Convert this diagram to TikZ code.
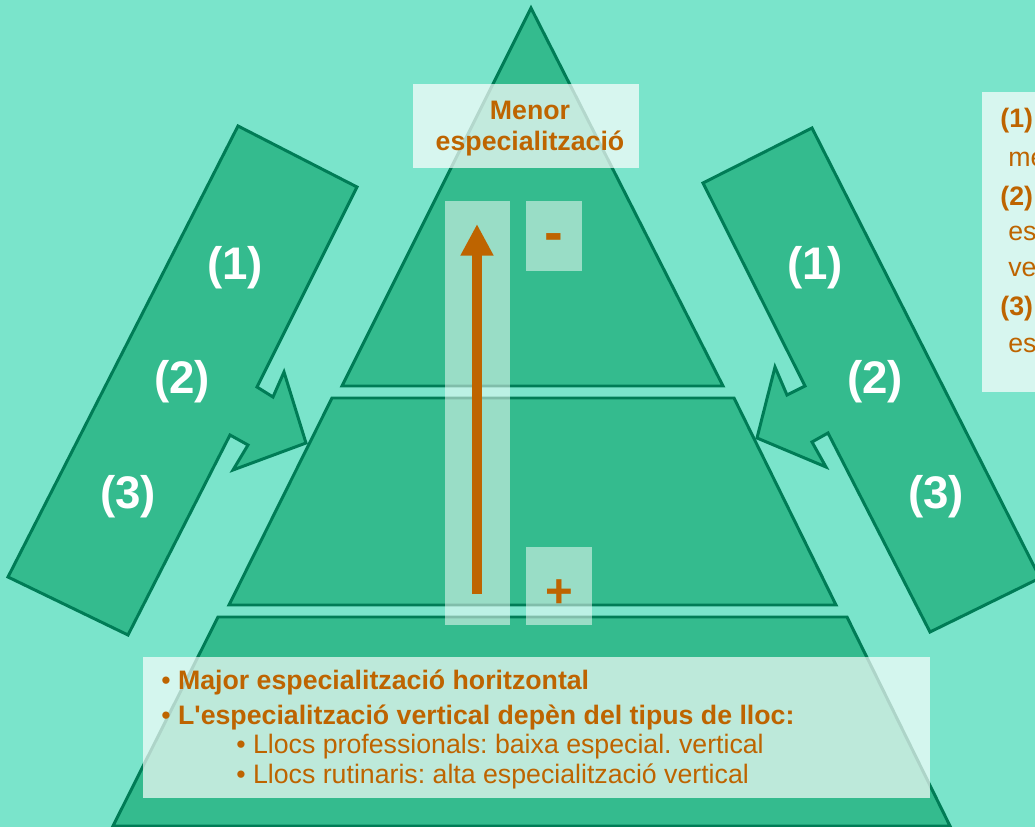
\documentclass[tikz,border=0pt]{standalone}
\usepackage{fontspec}
\setmainfont{Liberation Sans}
\frenchspacing
\usetikzlibrary{arrows.meta}
\definecolor{bgteal}{RGB}{122,228,203}
\definecolor{tierfill}{RGB}{52,187,142}
\definecolor{tierline}{RGB}{0,124,86}
\definecolor{txtorange}{RGB}{190,100,0}
\tikzset{
  tier/.style = {fill=tierfill, draw=tierline, line width=1.7pt, line join=miter},
  veil/.style = {fill=white, fill opacity=#1},
  num/.style = {text=white, font=\fontsize{26}{30}\selectfont\bfseries},
  lbl/.style = {text=txtorange, font=\fontsize{15.2}{18}\selectfont\bfseries, inner sep=0pt},
  lbltext/.style = {text=txtorange, font=\fontsize{15.2}{18}\selectfont, inner sep=0pt}
}

\begin{document}
\begin{tikzpicture}[x=0.02cm,y=-0.02cm]
  \useasboundingbox (0,0) rectangle (1035,827);
  \clip (0,0) rectangle (1035,827);
  \fill[bgteal] (0,0) rectangle (1035,827);

  % pyramid
  \draw[tier] (531,8) -- (723,386) -- (342,386) -- cycle;
  \draw[tier] (332,398) -- (734,398) -- (836,605) -- (229,605) -- cycle;
  \draw[tier] (218,617) -- (847,617) -- (950,826) -- (113,826) -- cycle;

  % side arrows
  \draw[tier] (238,126) -- (357,187) -- (257,387) -- (273,397) -- (284,372)
    -- (306,443) -- (233,470) -- (248,445) -- (230,435) -- (128,635)
    -- (8,577) -- cycle;
  \draw[tier] (703,183) -- (812,128) -- (1040,578) -- (930,632) -- (828,433)
    -- (812,442) -- (826,467) -- (757,438) -- (775,367) -- (787,395)
    -- (805,386) -- cycle;

  \node[num] (l1) at (235,268) {(1)};
  \node[num] (l2) at (182,382) {(2)};
  \node[num] (l3) at (128,497) {(3)};
  \node[num] (r1) at (815,268) {(1)};
  \node[num] (r2) at (875,382) {(2)};
  \node[num] (r3) at (936,497) {(3)};

  % light boxes
  \fill[veil=0.5] (445,201) rectangle (510,625);
  \fill[veil=0.5] (526,201) rectangle (582,271);
  \fill[veil=0.5] (526,547) rectangle (592,625);
  \fill[veil=0.7] (413,84) rectangle (639,168);
  \fill[veil=0.68] (143,657) rectangle (930,798);
  \fill[veil=0.7] (982,92) rectangle (1040,392);

  \node[lbl, anchor=base] (menor) at (530,120) {Menor};
  \node[lbl, anchor=base] (espec) at (530,151) {especialització};
  \node[lbl, font=\fontsize{32}{36}\selectfont\bfseries] (minus) at (554,243) {-};
  \node[lbl, font=\fontsize{27}{30}\selectfont\bfseries] (plus) at (559,594) {+};

  \coordinate (arrbot) at (477,594);
  \coordinate (arrtop) at (477,224);
  \draw[txtorange, line width=6.2pt, -{Triangle[length=18pt,width=17.6pt]}] (arrbot) -- (arrtop);

  % bottom text
  \node[lbl, anchor=base west] (b1) at (161,689) {\textmd{•} Major especialització horitzontal};
  \node[lbl, anchor=base west] (b2) at (161,724) {\textmd{•} L\textquotesingle especialització vertical depèn del tipus de lloc:};
  \node[lbltext, anchor=base west] (b3) at (236,753) {• Llocs professionals: baixa especial. vertical};
  \node[lbltext, anchor=base west] (b4) at (236,783) {• Llocs rutinaris: alta especialització vertical};

  % right notes
  \node[lbl, anchor=base west] (n1) at (1000,128) {(1)};
  \node[lbltext, anchor=base west] (n1a) at (1008,167) {me};
  \node[lbl, anchor=base west] (n2) at (1000,206) {(2)};
  \node[lbltext, anchor=base west] (n2a) at (1008,241) {es};
  \node[lbltext, anchor=base west] (n2b) at (1008,277) {ve};
  \node[lbl, anchor=base west] (n3) at (1000,316) {(3)};
  \node[lbltext, anchor=base west] (n3a) at (1008,353) {es};
\end{tikzpicture}
\end{document}
